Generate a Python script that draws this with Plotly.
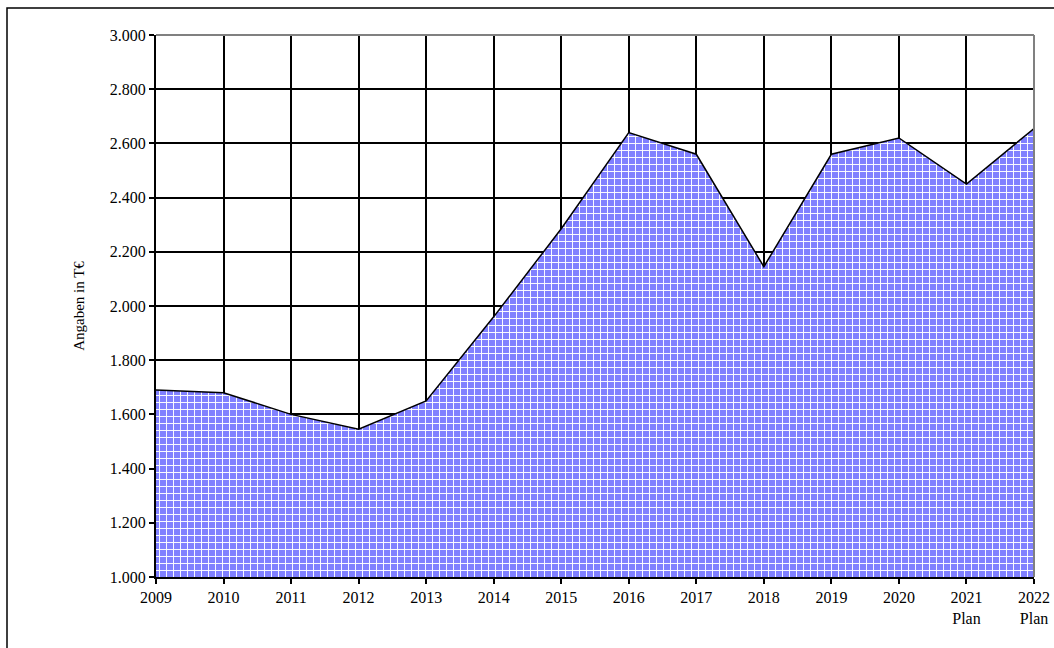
import plotly.graph_objects as go

years = ["2009", "2010", "2011", "2012", "2013", "2014", "2015", "2016",
         "2017", "2018", "2019", "2020", "2021<br>Plan", "2022<br>Plan"]
values = [1690, 1680, 1600, 1545, 1650, 1960, 2285, 2640,
          2560, 2145, 2560, 2620, 2450, 2655]
y_ticks = [1000, 1200, 1400, 1600, 1800, 2000, 2200, 2400, 2600, 2800, 3000]

x = list(range(len(years)))

fig = go.Figure()
fig.add_trace(go.Scatter(
    x=x, y=values, mode="lines", fill="tozeroy",
    line=dict(color="black", width=1.5),
    fillcolor="#8080ff",
    fillpattern=dict(shape="+", fgcolor="white", bgcolor="#8080ff",
                     size=7, solidity=0.25, fillmode="replace"),
    hoverinfo="skip", showlegend=False,
))

font = dict(family="Liberation Serif, Times New Roman, serif", size=16, color="black")

fig.update_layout(
    width=1054, height=648, autosize=False,
    margin=dict(l=156, r=20, t=35, b=71),
    plot_bgcolor="white", paper_bgcolor="white",
    separators=",.",
    font=font,
    showlegend=False,
    xaxis=dict(
        range=[0, len(years) - 1], tickmode="array", tickvals=x, ticktext=years,
        tickfont=font, automargin=False,
        showgrid=True, gridcolor="black", gridwidth=1.5,
        showline=True, linecolor="black", linewidth=2,
        ticks="outside", ticklen=5, tickcolor="black", tickwidth=1.5,
        zeroline=False, fixedrange=True,
    ),
    yaxis=dict(
        range=[1000, 3000], tickmode="array", tickvals=y_ticks,
        tickformat=",.0f", tickfont=font, automargin=False,
        showgrid=True, gridcolor="black", gridwidth=1.5,
        showline=True, linecolor="black", linewidth=2,
        ticks="outside", ticklen=5, tickcolor="black", tickwidth=1.5,
        zeroline=False, fixedrange=True,
        title=dict(text="Angaben in T€", standoff=22, font=dict(size=15)),
    ),
    shapes=[
        # gray top and right frame
        dict(type="line", xref="paper", yref="paper", x0=0, x1=1, y0=1, y1=1,
             line=dict(color="#808080", width=2)),
        dict(type="line", xref="paper", yref="paper", x0=1, x1=1, y0=0, y1=1,
             line=dict(color="#808080", width=2)),
        # outer chart border
        dict(type="rect", xref="paper", yref="paper",
             x0=(7 - 156) / 878, x1=(1070 - 156) / 878,
             y0=(577 - 670) / 542, y1=(577 - 8) / 542,
             line=dict(color="black", width=1.5), fillcolor="rgba(0,0,0,0)",
             layer="below"),
    ],
)

post = ("document.body.style.margin='0px';"
        "document.body.style.overflow='hidden';"
        "var gd=document.getElementById('{plot_id}');"
        "Plotly.relayout(gd,{width:1054,height:648});")

fig.write_html("out.html",
               config={"responsive": False, "displayModeBar": False},
               post_script=post)
